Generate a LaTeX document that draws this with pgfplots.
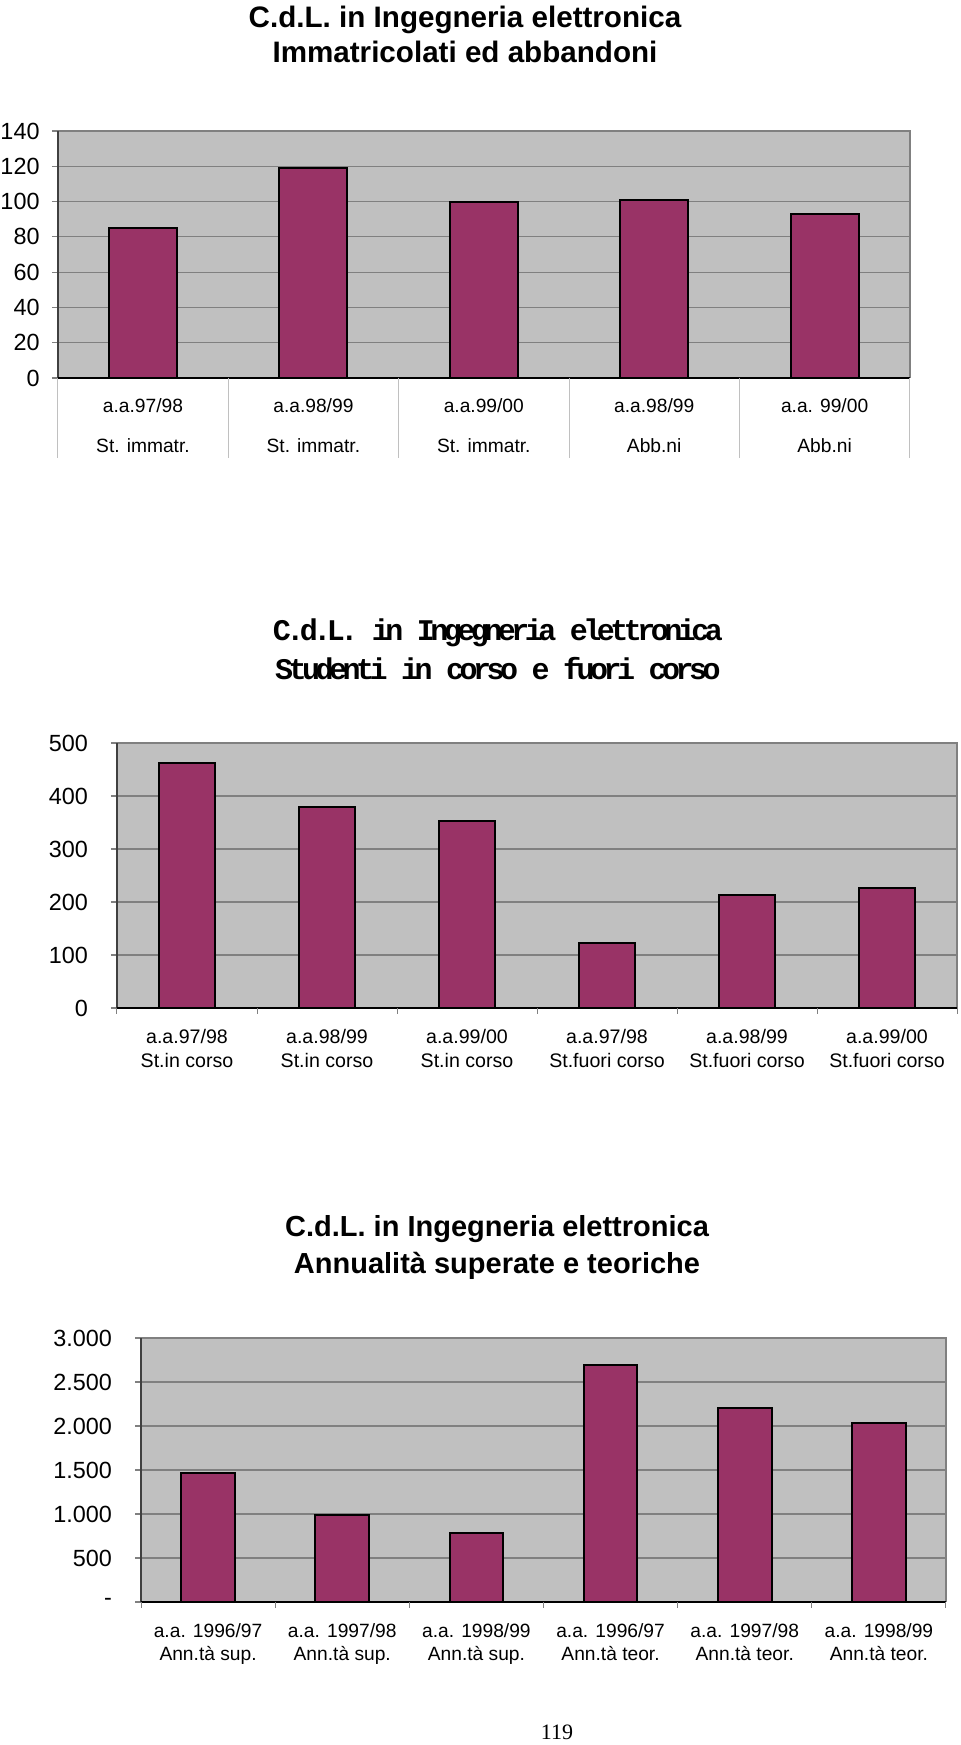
\documentclass[border=0pt]{standalone}
\usepackage{fontspec}
\setmainfont{Liberation Sans}
\newfontfamily\pgserif{Liberation Serif}
\newfontfamily\monob{Liberation Mono}[LetterSpace=-15]
\usepackage{pgfplots}
\pgfplotsset{compat=1.18}
\definecolor{plotbg}{HTML}{C0C0C0}
\definecolor{barfill}{HTML}{993366}
\definecolor{gridc}{HTML}{808080}
\pgfplotsset{
  excel/.style={
    scale only axis,
    axis background/.style={fill=plotbg},
    axis line style={draw=none},
    ymajorgrids,
    major grid style={draw=gridc, line width=0.6pt},
    tick pos=left,
    tick align=outside,
    major tick length=3pt,
    xtick style={draw=none},
    ytick style={draw=gridc, line width=0.6pt},
    xtick=data,
    ybar,
    bar width=0.4,
    /pgf/number format/assume math mode=true,
    yticklabel style={font=\fontsize{11.7}{14}\selectfont},
    clip=false,
  },
  barsty/.style={fill=barfill, draw=black, line width=1pt},
}
\begin{document}
\begin{tikzpicture}
\useasboundingbox (0,0) rectangle (480pt,-872.5pt);

% ---------- Chart 1 ----------
\node[align=center, font=\bfseries\fontsize{14.8}{17.5}\selectfont] at (232.5pt,-17.25pt)
  {C.d.L. in Ingegneria elettronica\\Immatricolati ed abbandoni};
\begin{axis}[excel, at={(28.9pt,-189pt)}, anchor=south west,
  width=426pt, height=123.5pt,
  xmin=-0.5, xmax=4.5, ymin=0, ymax=140, ytick={0,20,...,140},
  yticklabel style={xshift=-2.6pt},
  xticklabels={{a.a.97/98\\St. immatr.},{a.a.98/99\\St. immatr.},{a.a.99/00\\St. immatr.},{a.a.98/99\\Abb.ni},{a.a. 99/00\\Abb.ni}},
  xticklabel style={align=center, font=\fontsize{9.6}{20}\selectfont, yshift=-4pt},
]
\addplot[barsty] coordinates {(0,85) (1,119) (2,100) (3,101) (4,93)};
\draw[gridc, line width=0.8pt] (rel axis cs:0,1) -- (rel axis cs:1,1) -- (rel axis cs:1,0);
\draw[black!75, line width=0.8pt] (rel axis cs:0,0) -- (rel axis cs:0,1);
\draw[black, line width=1pt] (rel axis cs:0,0) -- (rel axis cs:1,0);
\pgfplotsinvokeforeach{-0.5,0.5,1.5,2.5,3.5,4.5}{\draw[gridc!50, line width=0.5pt] (axis cs:#1,0) -- ++(0pt,-40pt);}
\end{axis}

% ---------- Chart 2 ----------
\node[align=center, font=\monob\bfseries\fontsize{15}{19.5}\selectfont] at (249pt,-324.75pt)
  {C.d.L. in Ingegneria elettronica\\Studenti in corso e fuori corso};
\begin{axis}[excel, at={(58.5pt,-504pt)}, anchor=south west,
  width=420pt, height=132.5pt,
  xmin=-0.5, xmax=5.5, ymin=0, ymax=500, ytick={0,100,...,500},
  yticklabel style={xshift=-8pt},
  xticklabels={{a.a.97/98\\St.in corso},{a.a.98/99\\St.in corso},{a.a.99/00\\St.in corso},{a.a.97/98\\St.fuori corso},{a.a.98/99\\St.fuori corso},{a.a.99/00\\St.fuori corso}},
  xticklabel style={align=center, font=\fontsize{9.8}{12}\selectfont, yshift=-4pt},
]
\addplot[barsty] coordinates {(0,463) (1,380) (2,353) (3,123) (4,213) (5,227)};
\draw[gridc, line width=0.8pt] (rel axis cs:0,1) -- (rel axis cs:1,1) -- (rel axis cs:1,0);
\draw[black!75, line width=0.8pt] (rel axis cs:0,0) -- (rel axis cs:0,1);
\draw[black, line width=1pt] (rel axis cs:0,0) -- (rel axis cs:1,0);
\pgfplotsinvokeforeach{-0.5,0.5,1.5,2.5,3.5,4.5,5.5}{\draw[gridc, line width=0.5pt] (axis cs:#1,0) -- ++(0pt,-3pt);}
\end{axis}

% ---------- Chart 3 ----------
\node[align=center, font=\bfseries\fontsize{14.5}{18.5}\selectfont] at (248.5pt,-623.75pt)
  {C.d.L. in Ingegneria elettronica\\Annualità superate e teoriche};
\begin{axis}[excel, at={(70.5pt,-801pt)}, anchor=south west,
  width=402.5pt, height=132pt,
  xmin=-0.5, xmax=5.5, ymin=0, ymax=3000, ytick={0,500,...,3000},
  yticklabels={-,500,1.000,1.500,2.000,2.500,3.000},
  yticklabel style={xshift=-8pt},
  xticklabels={{a.a. 1996/97\\Ann.tà sup.},{a.a. 1997/98\\Ann.tà sup.},{a.a. 1998/99\\Ann.tà sup.},{a.a. 1996/97\\Ann.tà teor.},{a.a. 1997/98\\Ann.tà teor.},{a.a. 1998/99\\Ann.tà teor.}},
  xticklabel style={align=center, font=\fontsize{9.6}{11.5}\selectfont, yshift=-4pt},
]
\addplot[barsty] coordinates {(0,1470) (1,990) (2,790) (3,2690) (4,2200) (5,2040)};
\draw[gridc, line width=0.8pt] (rel axis cs:0,1) -- (rel axis cs:1,1) -- (rel axis cs:1,0);
\draw[black!75, line width=0.8pt] (rel axis cs:0,0) -- (rel axis cs:0,1);
\draw[black, line width=1pt] (rel axis cs:0,0) -- (rel axis cs:1,0);
\pgfplotsinvokeforeach{-0.5,0.5,1.5,2.5,3.5,4.5,5.5}{\draw[gridc, line width=0.5pt] (axis cs:#1,0) -- ++(0pt,-3pt);}
\end{axis}

\node[font=\pgserif\fontsize{11}{13}\selectfont] at (278.5pt,-866pt) {119};
\end{tikzpicture}
\end{document}
